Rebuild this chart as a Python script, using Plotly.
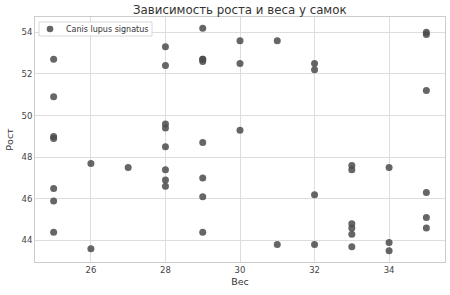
import plotly.graph_objects as go

weight = [25, 25, 25, 25, 25, 25, 25,
          26, 26,
          27,
          28, 28, 28, 28, 28, 28, 28, 28,
          29, 29, 29, 29, 29, 29, 29, 29,
          30, 30, 30,
          31, 31,
          32, 32, 32, 32,
          33, 33, 33, 33, 33, 33,
          34, 34, 34,
          35, 35, 35, 35, 35, 35]
height = [52.7, 50.9, 49.0, 48.9, 46.5, 45.9, 44.4,
          47.7, 43.6,
          47.5,
          53.3, 52.4, 49.6, 49.4, 48.5, 47.4, 46.9, 46.6,
          54.2, 52.7, 52.7, 52.6, 48.7, 47.0, 46.1, 44.4,
          53.6, 52.5, 49.3,
          53.6, 43.8,
          52.5, 52.2, 46.2, 43.8,
          47.6, 47.4, 44.8, 44.6, 44.3, 43.7,
          47.5, 43.9, 43.5,
          54.0, 53.9, 51.2, 46.3, 45.1, 44.6]

x_ticks = [26, 28, 30, 32, 34]
y_ticks = [44, 46, 48, 50, 52, 54]
series_name = "Canis lupus signatus"

font = "DejaVu Sans"
point_color = "rgba(75,75,75,0.85)"
fig = go.Figure(go.Scatter(
    x=weight, y=height, mode="markers", name=series_name,
    marker=dict(size=7, color=point_color, line=dict(width=0)),
    showlegend=False,
))

# compact legend (matplotlib-like)
fig.add_shape(type="rect", xref="paper", yref="paper",
              x0=0.0098, x1=0.2854, y0=0.9224, y1=0.9796,
              fillcolor="white", line=dict(color="#d8d8d8", width=1), layer="above")
fig.add_shape(type="circle", xref="paper", yref="paper",
              xsizemode="pixel", ysizemode="pixel",
              xanchor=0.0366, yanchor=0.951,
              x0=-3.3, x1=3.3, y0=-3.3, y1=3.3,
              fillcolor=point_color, line=dict(width=0), layer="above")
fig.add_annotation(text=series_name, xref="paper", yref="paper",
                   x=0.0715, y=0.951, xanchor="left", yanchor="middle",
                   showarrow=False, font=dict(size=8, color="#333333"))

fig.update_layout(
    width=450, height=295,
    margin=dict(l=35, r=5, t=17, b=33),
    paper_bgcolor="white", plot_bgcolor="white",
    font=dict(family=font, color="#333333"),
    title=dict(text="Зависимость роста и веса у самок", x=0.533, xanchor="center",
               y=0.966, yanchor="middle", font=dict(size=11.8, color="#333333")),
    showlegend=False,
)
fig.update_xaxes(range=[24.5, 35.5], tickvals=x_ticks, showgrid=True,
                 gridcolor="#dddddd", gridwidth=1, zeroline=False,
                 showline=True, linecolor="#cccccc", mirror=True,
                 tickfont=dict(size=8.5, color="#444444"), ticks="",
                 title=dict(text="Вес", font=dict(size=9.5, color="#333333"), standoff=4))
fig.update_yaxes(range=[42.965, 54.735], tickvals=y_ticks, showgrid=True,
                 gridcolor="#dddddd", gridwidth=1, zeroline=False,
                 showline=True, linecolor="#cccccc", mirror=True,
                 tickfont=dict(size=8.5, color="#444444"), ticks="",
                 title=dict(text="Рост", font=dict(size=9.5, color="#333333"), standoff=6))
fig.write_html("out.html")
